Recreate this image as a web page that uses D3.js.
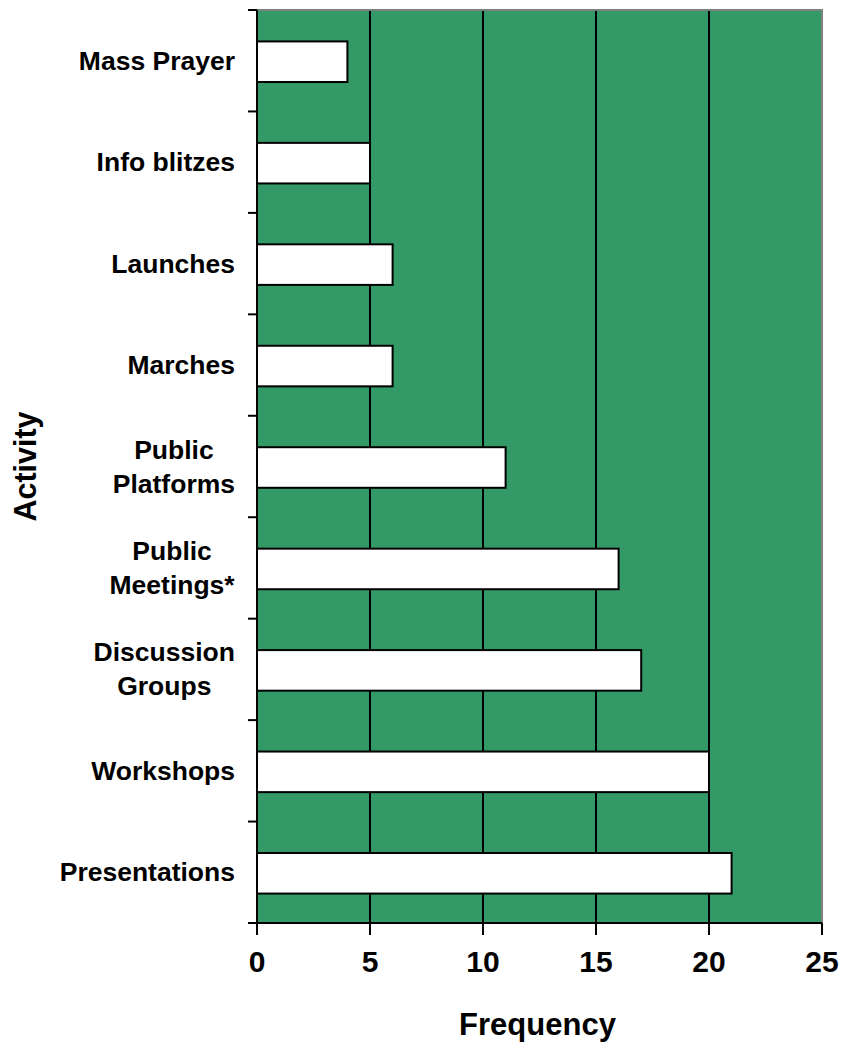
<!DOCTYPE html>
<html>
<head>
<meta charset="utf-8">
<script src="https://cdn.jsdelivr.net/npm/d3@7"></script>
<style>
  body { margin: 0; background: #fff; }
  text { font-family: "Liberation Sans", Arial, sans-serif; font-weight: bold; fill: #000; }
</style>
</head>
<body>
<div id="figure"></div>
<script>
'use strict';

const activities = ['Mass Prayer', 'Info blitzes', 'Launches', 'Marches', 'Public\nPlatforms',
  'Public\nMeetings*', 'Discussion\nGroups', 'Workshops', 'Presentations'];
const frequencies = [4, 5, 6, 6, 11, 16, 17, 20, 21];
const xTicks = [0, 5, 10, 15, 20, 25];

const W = 842, H = 1046;
const margin = { left: 257, right: 20, top: 10, bottom: 123 };
const width = W - margin.left - margin.right;
const height = H - margin.top - margin.bottom;

const svg = d3.select('#figure').append('svg')
  .attr('width', W).attr('height', H);
const g = svg.append('g').attr('transform', `translate(${margin.left},${margin.top})`);

const x = d3.scaleLinear().domain([0, 25]).range([0, width]);
const y = d3.scaleBand().domain(activities).range([0, height]);

// plot background
g.append('rect').attr('width', width).attr('height', height).attr('fill', '#339966');

// gridlines
g.append('g').selectAll('line')
  .data(xTicks.filter(d => d > 0 && d < 25))
  .join('line')
  .attr('x1', d => x(d)).attr('x2', d => x(d))
  .attr('y1', 0).attr('y2', height)
  .attr('stroke', '#000').attr('stroke-width', 2);

// top and right border
g.append('path')
  .attr('d', `M0,0H${width}V${height}`)
  .attr('fill', 'none').attr('stroke', '#808080').attr('stroke-width', 2);

// bars
const barH = y.bandwidth() * 0.4;
g.append('g').selectAll('rect')
  .data(d3.zip(activities, frequencies))
  .join('rect')
  .attr('x', 0)
  .attr('y', d => y(d[0]) + y.bandwidth() / 2 - barH / 2 + 1)
  .attr('width', d => x(d[1]))
  .attr('height', barH)
  .attr('fill', '#fff').attr('stroke', '#000').attr('stroke-width', 2);

// y axis with ticks at category boundaries
const yAxis = g.append('g');
yAxis.append('line').attr('y1', 0).attr('y2', height).attr('stroke', '#000').attr('stroke-width', 2);
yAxis.selectAll('.tick')
  .data(d3.range(activities.length + 1))
  .join('line')
  .attr('x1', -9).attr('x2', 0)
  .attr('y1', i => i * y.step()).attr('y2', i => i * y.step())
  .attr('stroke', '#000').attr('stroke-width', 2);

// category labels
const labels = g.append('g');
activities.forEach(a => {
  const lines = a.split('\n');
  const t = labels.append('text')
    .attr('font-size', 26.5)
    .attr('text-anchor', 'middle');
  lines.forEach((l, i) => {
    t.append('tspan')
      .attr('x', 0)
      .attr('y', y(a) + y.bandwidth() / 2 + 9 + (i - (lines.length - 1) / 2) * 34)
      .text(l);
  });
  const w = t.node().getBBox().width;
  t.selectAll('tspan').attr('x', -22 - w / 2);
});

// x axis
const xAxis = g.append('g').attr('transform', `translate(0,${height})`);
xAxis.append('line').attr('x1', 0).attr('x2', width).attr('stroke', '#000').attr('stroke-width', 2);
xAxis.selectAll('line.tick')
  .data(xTicks).join('line').attr('class', 'tick')
  .attr('x1', d => x(d)).attr('x2', d => x(d))
  .attr('y1', 0).attr('y2', 12)
  .attr('stroke', '#000').attr('stroke-width', 2);
xAxis.selectAll('text')
  .data(xTicks).join('text')
  .attr('x', d => x(d)).attr('y', 49)
  .attr('text-anchor', 'middle')
  .attr('font-size', 30)
  .text(d => d);

// axis titles
svg.append('text')
  .attr('x', margin.left + width / 2 - 2).attr('y', H - 11)
  .attr('text-anchor', 'middle')
  .attr('font-size', 31)
  .text('Frequency');

svg.append('text')
  .attr('transform', `translate(36,${margin.top + height / 2}) rotate(-90)`)
  .attr('text-anchor', 'middle')
  .attr('font-size', 30.5)
  .text('Activity');
</script>
</body>
</html>
